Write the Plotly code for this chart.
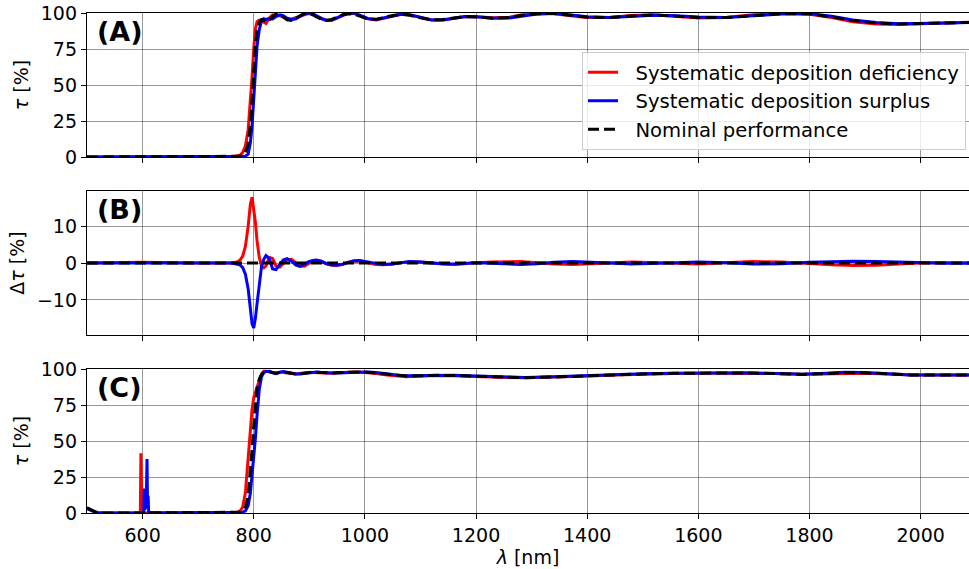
import plotly.graph_objects as go
from plotly.subplots import make_subplots

# ---------------- data ----------------
# Panels A and B share this wavelength grid (nm)
wl_ab = [500, 600, 700, 760, 770, 775, 780, 785, 790, 794, 797, 800, 803, 806, 810, 814, 818, 822,
         828, 834, 840, 847, 853, 860, 868, 876, 883, 891, 898, 906, 913, 922, 931, 940, 949, 960,
         970, 980, 991, 1005, 1020, 1033, 1050, 1065, 1081, 1100, 1120, 1140, 1160, 1180, 1200, 1230,
         1260, 1280, 1310, 1340, 1374, 1400, 1440, 1480, 1520, 1560, 1600, 1650, 1698, 1750, 1800,
         1840, 1878, 1920, 1960, 2000, 2050, 2100]

# (A) transmittance [%]
tau_a_nominal = [0, 0, 0, 0, 0.2, 0.5, 1.2, 3, 9, 22, 38, 60, 78, 88, 93.5, 95.5, 95, 93.5,
                 95, 97.5, 99.3, 99.2, 97.3, 95.2, 94.8, 96.5, 98.5, 99.7, 99.8, 98.8, 97.2, 95.6, 95, 95.5, 97, 98.8,
                 99.5, 99.3, 97.8, 95.8, 95.6, 96.8, 98.3, 99, 98.4, 96.6, 95.2, 95.5, 96.8, 97.6, 97.3, 96.4,
                 96.8, 98.2, 99.5, 99.7, 98.3, 97.1, 96.8, 98, 98.6, 98, 96.9, 96.8, 98.3, 99.5, 99.4,
                 97.3, 94.7, 93, 92.4, 92.6, 93.1, 93.6]
tau_a_deficiency = [0, 0.2, 0, 0, 0.5, 1.2, 3.0, 7.5, 19, 38, 55.8, 75, 89, 94, 95, 94.7, 93.7, 92.7,
                    96.5, 98.7, 98.5, 98.1, 97.1, 96.1, 95.8, 96.6, 97.7, 98.8, 99.6, 99.3, 97.9, 96.1, 94.8, 94.9, 96.3, 98.4,
                    99.7, 99.8, 98.3, 95.9, 95.2, 96.3, 98.0, 99.1, 98.7, 96.9, 95.2, 95.2, 96.4, 97.4, 97.4, 96.7,
                    97.1, 98.6, 99.6, 99.4, 97.9, 96.8, 96.8, 98.3, 98.8, 97.9, 96.6, 96.8, 98.7, 99.8, 99.2,
                    96.8, 94.0, 92.4, 92.1, 92.6, 93.2, 93.7]
tau_a_surplus = [0, 0.1, 0, 0, 0, 0, 0.2, 0.5, 2, 10, 21.5, 42.4, 63, 77, 88.5, 94.5, 96, 95.5,
                 96.2, 95.9, 97.5, 98.7, 98.1, 96.4, 95.3, 95.9, 97.6, 99.3, 100, 99.5, 98, 96, 94.8, 95, 96.4, 98.5,
                 99.7, 99.9, 98.5, 96.2, 95.5, 96.4, 98, 99.1, 98.8, 96.9, 95.2, 95.2, 96.5, 97.5, 97.4, 96.3,
                 96.5, 97.8, 99.3, 99.9, 98.7, 97.4, 96.8, 97.7, 98.4, 98.1, 97.2, 96.9, 98, 99.3, 99.6,
                 97.7, 95.2, 93.4, 92.6, 92.6, 93, 93.5]

# (B) difference to nominal [%]
dtau_b_deficiency = [0, 0.2, 0, 0, 0.3, 0.7, 1.8, 4.5, 10, 16, 17.8, 15, 11, 6, 1.5, -0.8, -1.3, -0.8,
                     1.5, 1.2, -0.8, -1.1, -0.2, 0.9, 1.0, 0.1, -0.8, -0.9, -0.2, 0.5, 0.7, 0.5, -0.2, -0.6, -0.7, -0.4,
                     0.2, 0.5, 0.5, 0.1, -0.4, -0.5, -0.3, 0.1, 0.3, 0.3, 0, -0.3, -0.4, -0.2, 0.1, 0.3,
                     0.3, 0.4, 0.1, -0.3, -0.4, -0.3, 0, 0.3, 0.2, -0.1, -0.3, 0, 0.4, 0.3, -0.2,
                     -0.5, -0.7, -0.6, -0.3, 0, 0.1, 0.1]
dtau_b_surplus = [0, 0.1, 0, 0, -0.2, -0.5, -1.2, -3, -7, -12, -16.5, -17.6, -15, -11, -5, -1, 1, 2.0,
                  1.2, -1.6, -1.8, -0.5, 0.8, 1.2, 0.5, -0.6, -0.9, -0.4, 0.3, 0.7, 0.8, 0.4, -0.2, -0.5, -0.6, -0.3,
                  0.2, 0.6, 0.7, 0.4, -0.1, -0.4, -0.3, 0.1, 0.4, 0.3, 0, -0.3, -0.3, -0.1, 0.1, -0.1,
                  -0.3, -0.4, -0.2, 0.2, 0.4, 0.3, 0, -0.3, -0.2, 0.1, 0.3, 0.1, -0.3, -0.2, 0.2,
                  0.4, 0.5, 0.4, 0.2, 0, -0.1, -0.1]
wl_b_nominal = [500, 2100]
dtau_b_nominal = [0, 0]

# (C) transmittance [%]
wl_c = [500, 505, 510, 515, 520, 530, 560, 590, 596, 597, 598, 599, 600, 602, 603, 604, 605, 606,
        607, 608, 609, 610, 611, 612, 620, 700, 760, 770, 775, 780, 785, 790, 794, 797, 800, 803, 806,
        810, 814, 818, 822, 828, 834, 840, 847, 853, 860, 868, 876, 883, 891, 898, 906, 913, 922, 931,
        940, 949, 960, 970, 980, 991, 1005, 1020, 1040, 1060, 1075, 1090, 1110, 1130, 1160, 1200, 1240,
        1288, 1340, 1390, 1450, 1500, 1555, 1620, 1685, 1740, 1787, 1830, 1863, 1900, 1940, 1982, 2030, 2100]
tau_c_nominal = [3.5, 2.5, 1.5, 0.8, 0.3, 0, 0, 0, 0, 0, 0, 0, 0, 0, 0, 0, 0, 0,
                 0, 0, 0, 0, 0, 0, 0, 0, 0, 0.2, 0.5, 1.5, 4, 12, 28, 44, 60, 76, 87,
                 93, 96, 97.5, 98, 98.2, 97.5, 97, 97.6, 98, 97.5, 96.8, 96.5, 96.7, 97.2, 97.6, 97.8, 97.7, 97.4, 97.2,
                 97.2, 97.4, 97.6, 97.8, 98, 98, 97.8, 97.2, 96.2, 95.4, 95.1, 95.2, 95.5, 95.6, 95.5, 94.9, 94.3,
                 94, 94.4, 95.2, 96, 96.6, 97, 97.2, 97.3, 96.8, 96.2, 96.8, 97.4, 97.3, 96.5, 95.9, 95.8, 95.9]
tau_c_deficiency = [3.5, 2.5, 1.5, 0.8, 0.3, 0, 0, 0, 0, 41.5, 0, 0, 0, 0, 0, 0, 0, 0,
                    0, 0, 0, 0, 0, 0, 0, 0, 0, 0.5, 1.2, 4, 14, 38, 58, 72, 80, 84, 87,
                    92, 96.5, 98.5, 98.5, 98, 97.3, 97.2, 97.7, 97.8, 97.2, 96.6, 96.5, 96.9, 97.4, 97.6, 97.6, 97.4, 97.1, 97.0,
                    97.1, 97.4, 97.7, 97.9, 98, 97.9, 97.5, 96.8, 95.8, 95.0, 94.7, 94.9, 95.3, 95.5, 95.3, 94.7, 94.2,
                    94, 94.3, 95.0, 95.8, 96.5, 96.9, 97.1, 97.2, 96.9, 96.4, 96.6, 97.1, 97.1, 96.5, 95.9, 95.8, 95.9]
tau_c_surplus = [3.0, 2.0, 1.0, 0.5, 0.2, 0, 0, 0, 0, 0, 0, 0, 0, 0, 17, 2, 16, 3,
                 15, 37.5, 4, 12, 0, 0, 0, 0, 0, 0, 0.2, 0.5, 1.5, 5, 14, 26, 38, 52, 68,
                 86, 94.5, 97.5, 98.3, 98.4, 97.3, 96.8, 97.8, 98.2, 97.7, 96.9, 96.5, 96.6, 97.0, 97.5, 97.9, 97.9, 97.6, 97.3,
                 97.2, 97.3, 97.5, 97.7, 98, 98.1, 98, 97.5, 96.5, 95.6, 95.3, 95.4, 95.6, 95.7, 95.7, 95.1, 94.5,
                 94.1, 94.6, 95.4, 96.2, 96.7, 97.1, 97.3, 97.4, 96.9, 96.3, 97.0, 97.7, 97.5, 96.6, 95.9, 95.8, 95.9]

x_ticks = [600, 800, 1000, 1200, 1400, 1600, 1800, 2000]
tau_ticks = [0, 25, 50, 75, 100]
dtau_ticks = [-10, 0, 10]
panel_labels = ["(A)", "(B)", "(C)"]
legend_names = ["Systematic deposition deficiency", "Systematic deposition surplus", "Nominal performance"]

# ---------------- figure ----------------
FONT = "DejaVu Sans"
RED, BLUE, BLACK = "#ff0000", "#0000ff", "#000000"
LW = 3
DASH = "11px,5px"
TICKSIZE = 19
PAD = "\u00a0\u00a0"  # gap between legend line sample and its label

fig = make_subplots(rows=3, cols=1, shared_xaxes=False)

def add_panel(row, x, red, blue, xn, black, show):
    fig.add_trace(go.Scatter(x=x, y=red, mode="lines", line=dict(color=RED, width=LW),
                             name=PAD + legend_names[0], showlegend=show, legendrank=1), row=row, col=1)
    fig.add_trace(go.Scatter(x=x, y=blue, mode="lines", line=dict(color=BLUE, width=LW),
                             name=PAD + legend_names[1], showlegend=show, legendrank=2), row=row, col=1)
    fig.add_trace(go.Scatter(x=xn, y=black, mode="lines", line=dict(color=BLACK, width=LW, dash=DASH),
                             name=PAD + legend_names[2], showlegend=show, legendrank=3), row=row, col=1)

add_panel(1, wl_ab, tau_a_deficiency, tau_a_surplus, wl_ab, tau_a_nominal, True)
add_panel(2, wl_ab, dtau_b_deficiency, dtau_b_surplus, wl_b_nominal, dtau_b_nominal, False)
add_panel(3, wl_c, tau_c_deficiency, tau_c_surplus, wl_c, tau_c_nominal, False)

grid = "rgba(0,0,0,0.40)"
xcommon = dict(range=[500, 2087], tickvals=x_ticks, ticks="outside", ticklen=5, tickwidth=1.2,
               tickcolor="black", showline=True, linecolor="black", linewidth=1.3, mirror=True,
               showgrid=True, gridcolor=grid, gridwidth=1, zeroline=False, automargin=False,
               tickfont=dict(family=FONT, size=TICKSIZE, color="black"))
ycommon = dict(ticks="outside", ticklen=5, tickwidth=1.2, tickcolor="black", showline=True,
               linecolor="black", linewidth=1.3, mirror=False, showgrid=True, gridcolor=grid,
               gridwidth=1, zeroline=False, automargin=False,
               tickfont=dict(family=FONT, size=TICKSIZE, color="black"))

fig.update_xaxes(**xcommon)
fig.update_xaxes(showticklabels=False, row=1, col=1)
fig.update_xaxes(showticklabels=False, row=2, col=1)
fig.update_xaxes(title=dict(text="<i>λ</i> [nm]", font=dict(family=FONT, size=TICKSIZE, color="black"),
                            standoff=4), row=3, col=1)

ytitle_font = dict(family=FONT, size=TICKSIZE, color="black")
fig.update_yaxes(**ycommon)
fig.update_yaxes(range=[0, 100], tickvals=tau_ticks, domain=[0.712, 1.0],
                 title=dict(text="<i>τ</i> [%]", font=ytitle_font, standoff=7), row=1, col=1)
fig.update_yaxes(range=[-19.5, 19.5], tickvals=dtau_ticks, ticktext=["\u221210", "0", "10"], domain=[0.356, 0.644],
                 title=dict(text="Δ<i>τ</i> [%]", font=ytitle_font, standoff=7), row=2, col=1)
fig.update_yaxes(range=[0, 100], tickvals=tau_ticks, domain=[0.0, 0.288],
                 title=dict(text="<i>τ</i> [%]", font=ytitle_font, standoff=7), row=3, col=1)

for i, lab in enumerate(panel_labels):
    xr = "x domain" if i == 0 else f"x{i+1} domain"
    yr = "y domain" if i == 0 else f"y{i+1} domain"
    fig.add_annotation(text=f"<b>{lab}</b>", xref=xr, yref=yr, x=0.009, y=0.995,
                       xanchor="left", yanchor="top", showarrow=False,
                       font=dict(family=FONT, size=27, color="black"))

fig.update_layout(
    width=969, height=569,
    margin=dict(l=87, r=0, t=13, b=56),
    paper_bgcolor="white", plot_bgcolor="white",
    font=dict(family=FONT, size=TICKSIZE, color="black"),
    legend=dict(x=0.9966, xanchor="right", y=0.922, yanchor="top",
                bgcolor="rgba(255,255,255,0.8)", bordercolor="#cccccc", borderwidth=1,
                font=dict(family=FONT, size=19.6, color="black"), traceorder="normal"),
)

# remove the default 8 px page margin so the figure starts at the window's corner
fig.write_html("out.html", config={"displayModeBar": False},
               post_script="document.body.style.margin='0px';")
